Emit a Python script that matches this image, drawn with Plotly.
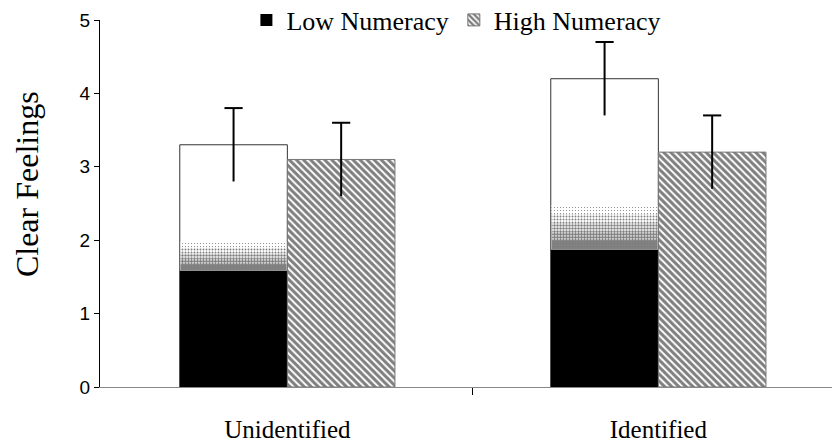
import plotly.graph_objects as go

# Data
categories = ["Unidentified", "Identified"]
low_values = [3.3, 4.2]
low_errors = [0.5, 0.5]
high_values = [3.1, 3.2]
high_errors = [0.5, 0.5]
y_ticks = [0, 1, 2, 3, 4, 5]

# Layout of the grouped bars on a numeric axis (one unit per category)
cat_pos = list(range(len(categories)))
bar_w = 0.29
low_x = [p - bar_w / 2 for p in cat_pos]
high_x = [p + bar_w / 2 for p in cat_pos]

# Gradient of the Low Numeracy bars (as fractions of each bar's height):
# solid black up to fade_start, stippled fade up to fade_end, white above
fade_start = [0.48, 0.445]
fade_end = [0.60, 0.59]
fade_solidity = [0.9, 0.72, 0.52, 0.32, 0.12]

serif = "Liberation Serif, Times New Roman, serif"
sans = "Liberation Sans, Arial, sans-serif"

fig = go.Figure()

# White body with outline for Low Numeracy
fig.add_trace(go.Bar(
    x=low_x, y=low_values, width=bar_w, name="Low Numeracy",
    marker=dict(color="white", line=dict(color="#333333", width=1)),
    showlegend=False, hoverinfo="skip",
))
# Solid dark lower part
fig.add_trace(go.Bar(
    x=low_x, y=[v * f for v, f in zip(low_values, fade_start)],
    base=[0] * len(low_values), width=bar_w, name="Low Numeracy",
    marker=dict(color="black", line=dict(width=0)),
    showlegend=True, legendrank=1,
))
# Stippled transition bands
n_bands = len(fade_solidity)
for i, sol in enumerate(fade_solidity):
    lo = [s + (e - s) * i / n_bands for s, e in zip(fade_start, fade_end)]
    hi = [s + (e - s) * (i + 1) / n_bands for s, e in zip(fade_start, fade_end)]
    fig.add_trace(go.Bar(
        x=low_x, y=[v * (h - l) for v, l, h in zip(low_values, lo, hi)],
        base=[v * l for v, l in zip(low_values, lo)], width=bar_w * 0.985,
        marker=dict(color="white", line=dict(width=0),
                    pattern=dict(shape=".", fgcolor="black", bgcolor="white",
                                 size=3, solidity=sol)),
        showlegend=False, hoverinfo="skip",
    ))
# Error stems for Low Numeracy
fig.add_trace(go.Bar(
    x=low_x, y=low_values, width=bar_w, name="Low Numeracy",
    marker=dict(color="rgba(0,0,0,0)", line=dict(width=0)),
    error_y=dict(type="data", array=low_errors, symmetric=True,
                 color="black", thickness=2, width=0),
    showlegend=False, hoverinfo="skip",
))

# Hatched High Numeracy bars
fig.add_trace(go.Bar(
    x=high_x, y=high_values, width=bar_w, name="High Numeracy",
    marker=dict(color="white", line=dict(color="#777777", width=1),
                pattern=dict(shape="\\", fgcolor="black", bgcolor="white",
                             size=5, solidity=0.6)),
    error_y=dict(type="data", array=high_errors, symmetric=True,
                 color="black", thickness=2, width=0),
    legendrank=2,
))

# Caps on the upper ends of the error bars
fig.add_trace(go.Scatter(
    x=low_x + high_x,
    y=[v + e for v, e in zip(low_values, low_errors)] +
      [v + e for v, e in zip(high_values, high_errors)],
    mode="markers",
    marker=dict(symbol="line-ew-open", size=13, color="black",
                line=dict(color="black", width=2)),
    showlegend=False, hoverinfo="skip",
))

fig.update_layout(
    width=832, height=446,
    margin=dict(l=100, r=0, t=20, b=59, autoexpand=False),
    barmode="overlay",
    plot_bgcolor="white", paper_bgcolor="white",
    legend=dict(orientation="h", x=0.2, xanchor="left",
                y=1.0, yanchor="middle",
                font=dict(family=serif, size=26, color="black"),
                bgcolor="rgba(0,0,0,0)", traceorder="normal",
                itemwidth=30),
    xaxis=dict(
        range=[-0.505, 1.468],
        tickvals=cat_pos, ticktext=categories, ticks="",
        tickfont=dict(family=serif, size=25, color="black"),
        ticklabelstandoff=20,
        showline=True, linecolor="#888888", linewidth=1,
        showgrid=False, zeroline=False,
        minor=dict(tickvals=[0.5], ticks="outside", ticklen=7,
                   tickcolor="black", tickwidth=1),
    ),
    yaxis=dict(
        range=[0, 5], tickvals=y_ticks,
        ticks="outside", ticklen=5, tickcolor="black",
        tickfont=dict(family=sans, size=19, color="black"),
        showline=True, linecolor="black", linewidth=1,
        showgrid=False, zeroline=False,
    ),
    annotations=[dict(
        text="Clear Feelings", textangle=-90,
        xref="paper", yref="paper", x=-0.0997, y=0.553,
        xanchor="center", yanchor="middle", showarrow=False,
        font=dict(family=serif, size=32, color="black"),
    )],
)

fig.write_html("out.html")
